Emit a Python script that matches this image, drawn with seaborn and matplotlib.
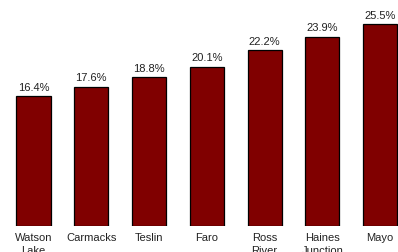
import seaborn as sns
import matplotlib.pyplot as plt

towns = ['Watson\nLake', 'Carmacks', 'Teslin', 'Faro', 'Ross\nRiver', 'Haines\nJunction', 'Mayo']
rates = [16.4, 17.6, 18.8, 20.1, 22.2, 23.9, 25.5]

sns.set_style('white')
plt.rcParams['font.family'] = ['Liberation Sans', 'DejaVu Sans']

fig = plt.figure(figsize=(3.98, 2.52), dpi=100)
ax = fig.add_axes([0, 0.103, 1, 0.897])

sns.barplot(x=towns, y=rates, color='#800000', saturation=1,
            edgecolor='black', linewidth=0.9, width=0.59, ax=ax)

ax.bar_label(ax.containers[0], fmt='%.1f%%', padding=2.5, fontsize=8, color='#222222')

ax.set_xlim(-0.58, 6.31)
ax.set_ylim(0, 28.53)
ax.set_yticks([])
ax.set_xlabel('')
ax.set_ylabel('')
ax.tick_params(axis='x', length=0, pad=5, labelsize=8, labelcolor='#222222')
for lbl in ax.get_xticklabels():
    lbl.set_linespacing(1.35)
sns.despine(ax=ax, left=True, bottom=True)

fig.savefig('out.png', dpi=100)
